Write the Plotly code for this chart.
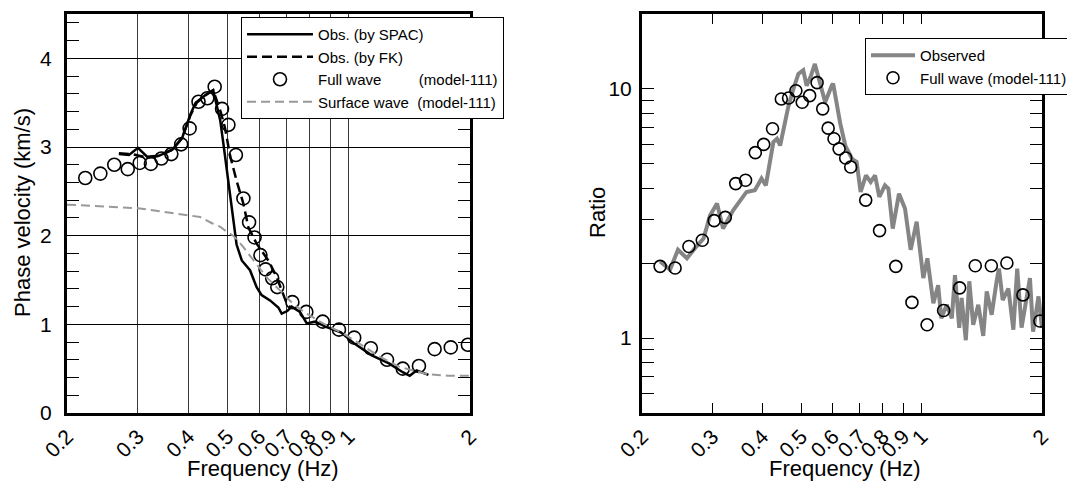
import math
import plotly.graph_objects as go

# frequency ticks shared by both panels
freq_ticks = [0.2, 0.3, 0.4, 0.5, 0.6, 0.7, 0.8, 0.9, 1, 2]
freq_labels = ["0.2", "0.3", "0.4", "0.5", "0.6", "0.7", "0.8", "0.9", "1", "2"]

# full wave (model-111), both panels
freq_model = [0.222, 0.242, 0.262, 0.283, 0.303, 0.323, 0.343, 0.363, 0.384, 0.403,
              0.424, 0.446, 0.465, 0.485, 0.503, 0.525, 0.548, 0.566, 0.584, 0.604,
              0.622, 0.646, 0.665, 0.725, 0.785, 0.862, 0.946, 1.032, 1.135, 1.245,
              1.362, 1.494, 1.634, 1.792, 1.976]
vel_model = [2.65, 2.70, 2.80, 2.75, 2.82, 2.81, 2.87, 2.92, 3.03, 3.21,
             3.51, 3.55, 3.68, 3.43, 3.25, 2.91, 2.42, 2.15, 1.98, 1.78,
             1.62, 1.52, 1.42, 1.25, 1.14, 1.03, 0.94, 0.85, 0.73, 0.60,
             0.50, 0.53, 0.72, 0.74, 0.77]
ratio_model = [1.94, 1.91, 2.33, 2.47, 2.96, 3.05, 4.17, 4.30, 5.55, 5.99,
               6.92, 9.12, 9.20, 9.84, 8.84, 9.40, 10.6, 8.32, 6.96, 6.31,
               5.75, 5.28, 4.86, 3.58, 2.70, 1.94, 1.39, 1.13, 1.29, 1.59,
               1.95, 1.95, 2.00, 1.49, 1.17]

# observed by SPAC
spac_freq = [0.269, 0.285, 0.300, 0.316, 0.338, 0.365, 0.386, 0.405, 0.417, 0.442,
             0.461, 0.480, 0.490, 0.500, 0.510, 0.520, 0.527, 0.543, 0.569, 0.591,
             0.608, 0.638, 0.669, 0.682, 0.704, 0.722, 0.757, 0.787, 0.825, 0.882,
             0.956, 1.035, 1.141, 1.259, 1.362, 1.417, 1.474, 1.577]
spac_vel = [2.92, 2.91, 2.99, 2.89, 2.90, 2.97, 3.10, 3.37, 3.50, 3.59,
            3.64, 3.30, 3.00, 2.70, 2.40, 2.10, 1.90, 1.72, 1.61, 1.42,
            1.33, 1.27, 1.19, 1.12, 1.15, 1.20, 1.14, 1.01, 1.03, 0.97,
            0.91, 0.78, 0.65, 0.56, 0.46, 0.42, 0.48, 0.43]

# observed by FK
fk_freq = [0.269, 0.290, 0.316, 0.338, 0.365, 0.386, 0.405, 0.420, 0.440, 0.461,
           0.481, 0.493, 0.508, 0.527, 0.548, 0.564, 0.591, 0.632, 0.663, 0.682,
           0.700, 0.720]
fk_vel = [2.93, 2.92, 2.88, 2.90, 2.97, 3.10, 3.36, 3.50, 3.58, 3.64,
          3.40, 3.22, 2.90, 2.62, 2.36, 2.09, 1.91, 1.72, 1.53, 1.38,
          1.25, 1.18]

# surface wave (model-111)
surf_freq = [0.2, 0.3, 0.4, 0.428, 0.458, 0.48, 0.5, 0.517, 0.525, 0.548,
             0.581, 0.626, 0.676, 0.728, 0.787, 0.864, 0.975, 1.1, 1.19, 1.336,
             1.566, 1.76, 2.0]
surf_vel = [2.35, 2.31, 2.23, 2.21, 2.14, 2.10, 2.04, 2.00, 1.97, 1.87,
            1.72, 1.53, 1.38, 1.23, 1.12, 1.01, 0.89, 0.74, 0.64, 0.52,
            0.44, 0.42, 0.42]

# observed spectral ratio
obs_freq = [0.222, 0.235, 0.246, 0.259, 0.271, 0.285, 0.296, 0.308, 0.319, 0.338,
            0.365, 0.383, 0.398, 0.408, 0.426, 0.435, 0.443, 0.464, 0.478, 0.492,
            0.506, 0.516, 0.529, 0.541, 0.557, 0.574, 0.596, 0.601, 0.626, 0.645,
            0.660, 0.671, 0.688, 0.704, 0.726, 0.746, 0.765, 0.784, 0.810, 0.826,
            0.847, 0.878, 0.909, 0.939, 0.972, 1.010, 1.034, 1.070, 1.100, 1.120,
            1.156, 1.190, 1.212, 1.242, 1.259, 1.290, 1.316, 1.346, 1.386, 1.426,
            1.455, 1.497, 1.540, 1.561, 1.595, 1.648, 1.696, 1.734, 1.778, 1.814,
            1.866, 1.900, 1.960, 2.000]
obs_ratio = [2.03, 1.88, 2.26, 2.09, 2.29, 2.51, 3.11, 3.47, 2.75, 3.26,
             3.86, 3.92, 4.37, 4.10, 6.12, 6.31, 5.93, 8.45, 10.0, 11.5,
             11.9, 10.3, 11.3, 12.6, 10.6, 8.84, 10.3, 10.5, 7.27, 5.90,
             5.50, 5.23, 5.09, 3.86, 4.50, 4.23, 4.50, 3.69, 4.10, 3.98,
             2.75, 3.80, 3.31, 2.26, 2.93, 1.74, 2.09, 1.38, 1.63, 1.20,
             1.36, 1.20, 1.79, 1.10, 1.45, 0.98, 1.69, 1.13, 1.36, 1.02,
             1.54, 1.24, 1.69, 1.90, 1.42, 1.58, 1.08, 1.90, 1.10, 1.36,
             1.74, 1.06, 1.47, 1.10]

vel_ticks = [0, 1, 2, 3, 4]
ratio_ticks = [0.6, 0.7, 0.8, 0.9, 1, 2, 3, 4, 5, 6, 7, 8, 9, 10, 20]
ratio_labels = ["", "", "", "", "1", "", "", "", "", "", "", "", "", "10", ""]

# the page body keeps its default 8px margin, so the figure is 8px smaller
PAD = 8
W, H = 1075 - PAD, 481 - PAD
FONT = "Arial, Liberation Sans, sans-serif"


def px(x):
    return (x - PAD) / W


def py(y):
    return 1 - (y - PAD) / H


fig = go.Figure()

fig.add_trace(go.Scatter(x=spac_freq, y=spac_vel, mode="lines", name="Obs. (by SPAC)",
                         line=dict(color="black", width=2.5), xaxis="x", yaxis="y"))
fig.add_trace(go.Scatter(x=fk_freq, y=fk_vel, mode="lines", name="Obs. (by FK)",
                         line=dict(color="black", width=2.5, dash="10px,5px"),
                         xaxis="x", yaxis="y"))
fig.add_trace(go.Scatter(x=freq_model, y=vel_model, mode="markers",
                         name="Full wave" + "\u00a0" * 9 + "(model-111)",
                         marker=dict(symbol="circle-open", size=13, color="black",
                                     line=dict(width=1.6)),
                         xaxis="x", yaxis="y"))
fig.add_trace(go.Scatter(x=surf_freq, y=surf_vel, mode="lines",
                         name="Surface wave\u00a0\u00a0(model-111)",
                         line=dict(color="#999999", width=2, dash="9px,5px"),
                         xaxis="x", yaxis="y"))

fig.add_trace(go.Scatter(x=obs_freq, y=obs_ratio, mode="lines", name="Observed",
                         line=dict(color="#858585", width=4), xaxis="x2", yaxis="y2",
                         legend="legend2"))
fig.add_trace(go.Scatter(x=freq_model, y=ratio_model, mode="markers",
                         name="Full wave (model-111)",
                         marker=dict(symbol="circle-open", size=12, color="black",
                                     line=dict(width=1.6)),
                         xaxis="x2", yaxis="y2", legend="legend2"))

frame = dict(showline=True, linewidth=3, linecolor="black", zeroline=False,
             automargin=False, tickfont=dict(size=21, color="black"))

fig.update_layout(
    width=W, height=H,
    margin=dict(l=0, r=0, t=0, b=0),
    paper_bgcolor="white", plot_bgcolor="white",
    font=dict(family=FONT, color="black"),
    xaxis=dict(type="log", range=[math.log10(0.2), math.log10(2)],
               domain=[px(67), px(470)], anchor="y",
               tickvals=freq_ticks, ticktext=freq_labels, tickangle=-45,
               showgrid=True, gridcolor="#3a3a3a", gridwidth=1,
               ticks="", mirror=True, **frame),
    yaxis=dict(range=[0, 4.5], domain=[py(413), py(14)], anchor="x",
               tickvals=vel_ticks, showgrid=True, gridcolor="black", gridwidth=1,
               ticks="inside", ticklen=12, tickcolor="black", mirror="ticks",
               ticklabelstandoff=8,
               minor=dict(dtick=0.2, tick0=0, ticks="inside", ticklen=12,
                          tickcolor="black", showgrid=False),
               **frame),
    xaxis2=dict(type="log", range=[math.log10(0.2), math.log10(2)],
                domain=[px(642), px(1042)], anchor="y2",
                tickvals=freq_ticks, ticktext=freq_labels, tickangle=-45,
                showgrid=False, ticks="inside", ticklen=10, tickcolor="black",
                mirror="ticks", **frame),
    yaxis2=dict(type="log", range=[math.log10(0.5), math.log10(20)],
                domain=[py(413), py(14)], anchor="x2",
                tickvals=ratio_ticks, ticktext=ratio_labels, showgrid=False,
                ticks="inside", ticklen=12, tickcolor="black", mirror="ticks",
                ticklabelstandoff=3, **frame),
    legend=dict(x=px(241), y=py(17), xanchor="left", yanchor="top",
                bgcolor="white", bordercolor="black", borderwidth=1,
                font=dict(size=15, family=FONT), itemwidth=66, tracegroupgap=0),
    legend2=dict(x=px(865), y=py(38), xanchor="left", yanchor="top",
                 bgcolor="white", bordercolor="black", borderwidth=1,
                 font=dict(size=15, family=FONT), itemwidth=44, tracegroupgap=0),
    showlegend=True,
)

title_font = dict(size=22, family=FONT, color="black")
for text, x, y, angle in [("Phase velocity (km/s)", 22, 213, -90),
                          ("Ratio", 597, 213, -90),
                          ("Frequency (Hz)", 263, 468, 0),
                          ("Frequency (Hz)", 845, 468, 0)]:
    fig.add_annotation(text=text, x=px(x), y=py(y), xref="paper", yref="paper",
                       xanchor="center", yanchor="middle", textangle=angle,
                       showarrow=False, font=title_font)

fig.write_html("out.html")
